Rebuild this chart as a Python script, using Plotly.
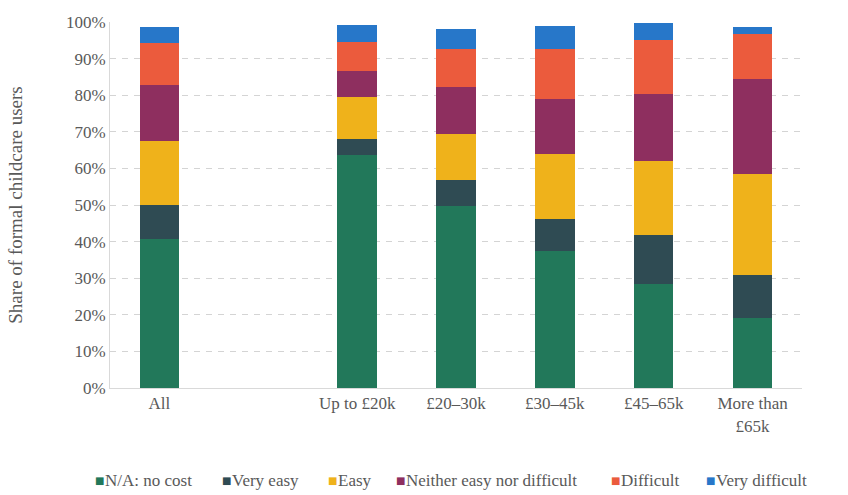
import plotly.graph_objects as go

categories = ["All", " ", "Up to £20k", "£20–30k", "£30–45k", "£45–65k", "More than<br>£65k"]
series_names = ["N/A: no cost", "Very easy", "Easy", "Neither easy nor difficult", "Difficult", "Very difficult"]
colors = ["#22785A", "#2F4B53", "#EFB21B", "#8E2F5F", "#EB5B3D", "#2777C9"]

na_no_cost = [40.8, None, 63.6, 49.6, 37.3, 28.3, 19.1]
very_easy = [9.3, None, 4.5, 7.1, 9.0, 13.5, 11.9]
easy = [17.3, None, 11.3, 12.7, 17.5, 20.3, 27.6]
neither = [15.5, None, 7.2, 12.8, 15.1, 18.3, 25.7]
difficult = [11.5, None, 7.9, 10.3, 13.8, 14.7, 12.4]
very_difficult = [4.2, None, 4.6, 5.7, 6.1, 4.5, 1.8]

series = [na_no_cost, very_easy, easy, neither, difficult, very_difficult]

# legend item start positions (pixels from left of page)
legend_px = [93, 220, 326, 394, 609, 704]

W, H = 848, 495
ML, MR, MT, MB = 110, 46, 22, 107
plot_w = W - ML - MR
plot_h = H - MT - MB

fig = go.Figure()
for name, vals, col in zip(series_names, series, colors):
    fig.add_trace(go.Bar(
        x=categories,
        y=[v / 100 if v is not None else None for v in vals],
        name=name,
        marker=dict(color=col, line=dict(width=0)),
        showlegend=False,
    ))

font_family = "Liberation Serif"
text_col = "#595959"

legend_y = (H - MB - 480) / plot_h
annotations = []
for name, col, px in zip(series_names, colors, legend_px):
    annotations.append(dict(
        xref="paper", yref="paper",
        x=(px - ML) / plot_w, y=legend_y,
        xanchor="left", yanchor="middle",
        showarrow=False,
        text="■",
        font=dict(family="DejaVu Sans", size=10, color=col),
    ))
    annotations.append(dict(
        xref="paper", yref="paper",
        x=(px + 10 - ML) / plot_w, y=legend_y,
        xanchor="left", yanchor="middle",
        showarrow=False,
        text=name,
        font=dict(family=font_family, size=17, color=text_col),
    ))

fig.update_layout(
    barmode="stack",
    bargap=0.6,
    width=W,
    height=H,
    margin=dict(l=ML, r=MR, t=MT, b=MB, autoexpand=False),
    paper_bgcolor="white",
    plot_bgcolor="white",
    font=dict(family=font_family, color=text_col, size=17),
    showlegend=False,
    annotations=annotations,
    xaxis=dict(
        type="category",
        categoryorder="array",
        categoryarray=categories,
        showline=True,
        linecolor="#D9D9D9",
        linewidth=1,
        ticks="",
        tickfont=dict(size=17, color=text_col),
        showgrid=False,
    ),
    yaxis=dict(
        range=[0, 1],
        tickformat=".0%",
        dtick=0.1,
        showgrid=True,
        gridcolor="#D4D4D4",
        griddash="6px,6px",
        gridwidth=1,
        showline=True,
        linecolor="#D9D9D9",
        zeroline=False,
        ticks="",
        tickfont=dict(size=17, color=text_col),
        title=dict(text="Share of formal childcare users", font=dict(size=19, color=text_col), standoff=38),
    ),
)

fig.write_html("out.html")
